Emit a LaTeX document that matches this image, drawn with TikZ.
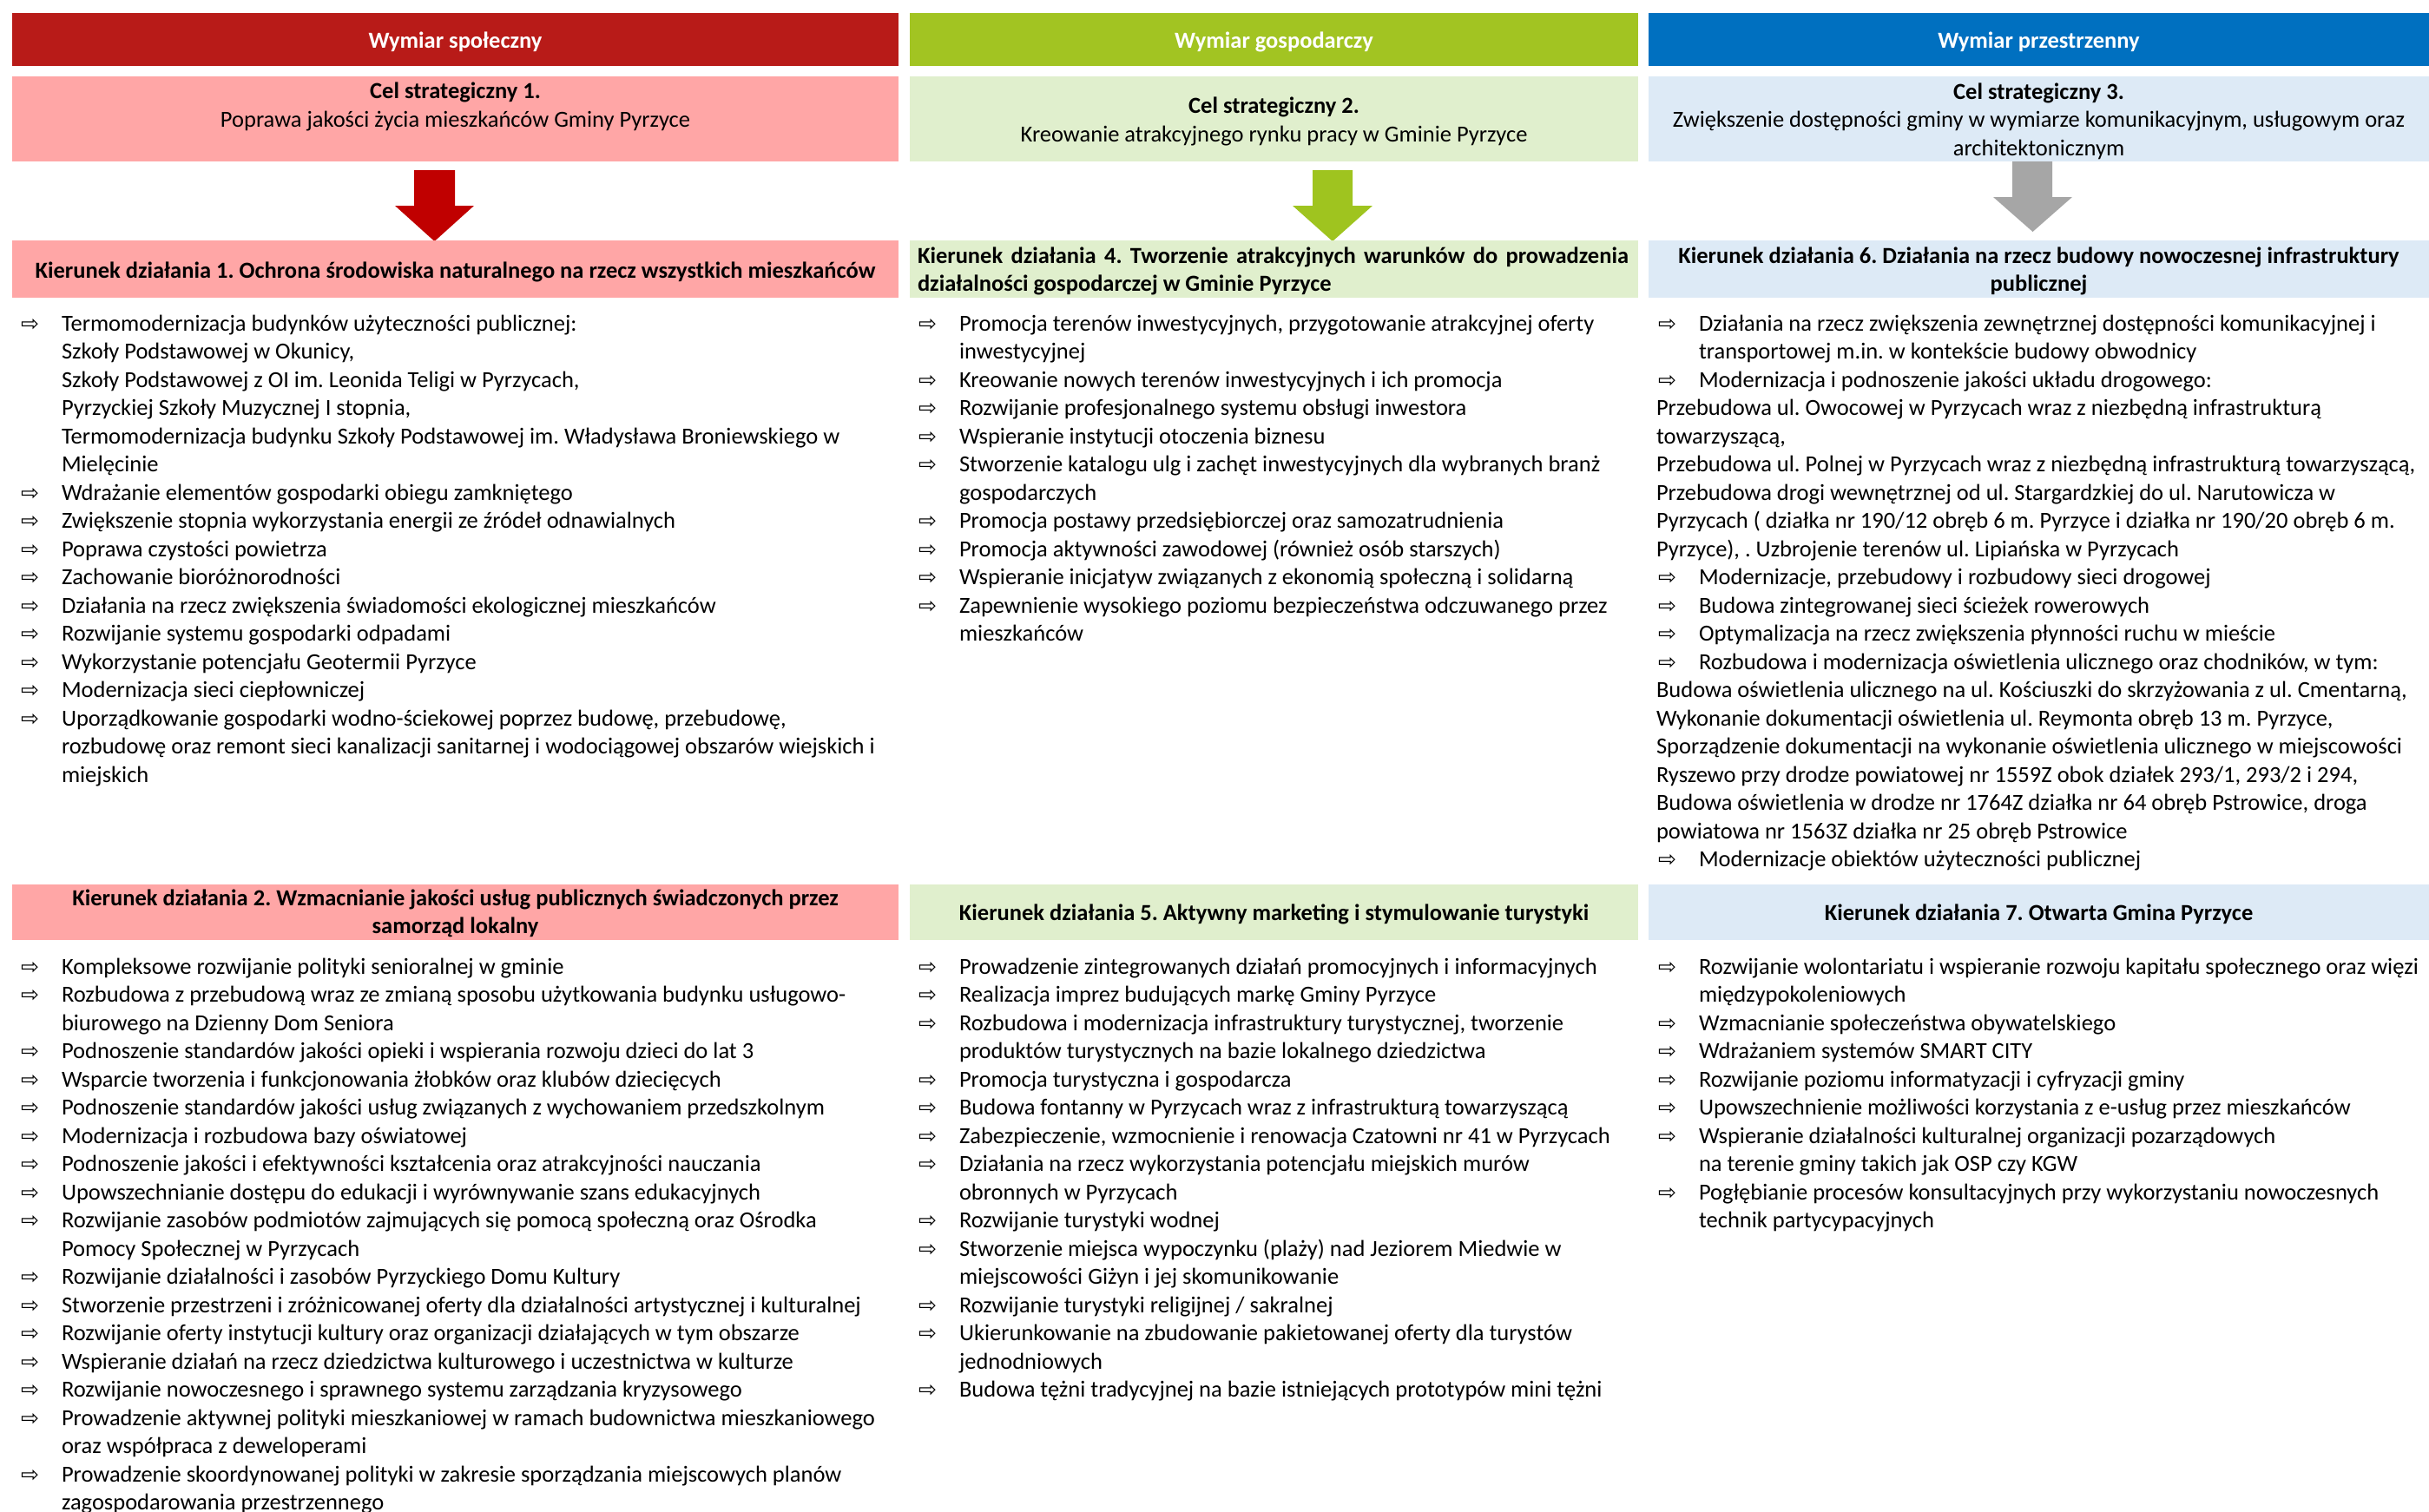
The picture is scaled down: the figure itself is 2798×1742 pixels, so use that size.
\documentclass[tikz,border=0pt]{standalone}
\usepackage{fontspec}
\setmainfont{Carlito}
\newfontfamily\symf{DejaVu Sans}
\frenchspacing
\definecolor{hdrRed}{RGB}{184,27,24}
\definecolor{lightRed}{RGB}{255,166,166}
\definecolor{hdrGreen}{RGB}{162,196,34}
\definecolor{lightGreen}{RGB}{224,239,205}
\definecolor{hdrBlue}{RGB}{0,112,192}
\definecolor{lightBlue}{RGB}{221,234,246}
\definecolor{arrRed}{RGB}{192,0,0}
\definecolor{arrGreen}{RGB}{159,196,31}
\definecolor{arrGray}{RGB}{166,166,166}
\newcommand\sr{\rule{0pt}{28pt}}
\newcommand\bl{\makebox[0pt][r]{{\symf\fontsize{25}{25}\selectfont ⇨}\hspace{26pt}}}
\newcommand\ind{\hspace*{49pt}}
\newcommand\ib{\ind\bl}
\begin{document}
\begin{tikzpicture}[x=1pt,y=-1pt,
  every node/.style={inner sep=0pt, outer sep=0pt},
  box/.style={draw=none, anchor=north west},
  txt/.style={font=\fontsize{26.5}{32.5}\selectfont\frenchspacing, align=left, anchor=north west},
  ctxt/.style={font=\fontsize{26.5}{32.5}\selectfont\frenchspacing, align=center, anchor=north},
  btxt/.style={ctxt, font=\fontsize{26.5}{32.5}\selectfont\frenchspacing\bfseries},
  htxt/.style={btxt, text=white}]
\useasboundingbox[fill=white] (0,0) rectangle (2798,1742);

% header bars
\node[box, fill=hdrRed, minimum width=1021pt, minimum height=61pt] (hA) at (14,15) {};
\node[box, fill=hdrGreen, minimum width=839pt, minimum height=61pt] (hB) at (1048,15) {};
\node[box, fill=hdrBlue, minimum width=899pt, minimum height=61pt] (hC) at (1899,15) {};
\node[htxt] (hAt) at (524.5,28) {\sr Wymiar społeczny};
\node[htxt] (hBt) at (1467.5,28) {\sr Wymiar gospodarczy};
\node[htxt] (hCt) at (2348.5,28) {\sr Wymiar przestrzenny};

% strategic goal boxes
\node[box, fill=lightRed, minimum width=1021pt, minimum height=98pt] (cA) at (14,88) {};
\node[box, fill=lightGreen, minimum width=839pt, minimum height=98pt] (cB) at (1048,88) {};
\node[box, fill=lightBlue, minimum width=899pt, minimum height=98pt] (cC) at (1899,88) {};
\node[ctxt] (cAt) at (524.5,86) {\sr\textbf{Cel strategiczny 1.}\\Poprawa jakości życia mieszkańców Gminy Pyrzyce};
\node[ctxt] (cBt) at (1467.5,103) {\sr\textbf{Cel strategiczny 2.}\\Kreowanie atrakcyjnego rynku pracy w Gminie Pyrzyce};
\node[ctxt] (cCt) at (2348.5,86) {\sr\textbf{Cel strategiczny 3.}\\Zwiększenie dostępności gminy w wymiarze komunikacyjnym, usługowym oraz\\architektonicznym};

% block arrows
\fill[arrRed] (477,196) -- (524,196) -- (524,237) -- (546,237) -- (500.5,278) -- (455,237) -- (477,237) -- cycle;
\fill[arrGreen] (1512,196) -- (1558,196) -- (1558,237) -- (1581,237) -- (1535,278) -- (1489,237) -- (1512,237) -- cycle;
\fill[arrGray] (2318,186) -- (2364,186) -- (2364,227) -- (2387,227) -- (2341.5,267) -- (2296,227) -- (2318,227) -- cycle;

% direction boxes row 1
\node[box, fill=lightRed, minimum width=1021pt, minimum height=66pt] (kA1) at (14,277) {};
\node[box, fill=lightGreen, minimum width=839pt, minimum height=66pt] (kB1) at (1048,277) {};
\node[box, fill=lightBlue, minimum width=899pt, minimum height=66pt] (kC1) at (1899,277) {};
\node[btxt] (kA1t) at (524.5,292) {\sr Kierunek działania 1. Ochrona środowiska naturalnego na rzecz wszystkich mieszkańców};
\node[btxt, anchor=north west, align=left] (kB1t) at (1057,275) {\sr\makebox[819pt][s]{Kierunek działania 4. Tworzenie atrakcyjnych warunków do prowadzenia}\\działalności gospodarczej w Gminie Pyrzyce};
\node[btxt] (kC1t) at (2348.5,275) {\sr Kierunek działania 6. Działania na rzecz budowy nowoczesnej infrastruktury\\publicznej};

% lists row 1
\node[txt] (lA1) at (71,353) {\sr\bl Termomodernizacja budynków użyteczności publicznej:\\
Szkoły Podstawowej w Okunicy,\\
Szkoły Podstawowej z OI im. Leonida Teligi w Pyrzycach,\\
Pyrzyckiej Szkoły Muzycznej I stopnia,\\
Termomodernizacja budynku Szkoły Podstawowej im. Władysława Broniewskiego w\\
Mielęcinie\\
\bl Wdrażanie elementów gospodarki obiegu zamkniętego\\
\bl Zwiększenie stopnia wykorzystania energii ze źródeł odnawialnych\\
\bl Poprawa czystości powietrza\\
\bl Zachowanie bioróżnorodności\\
\bl Działania na rzecz zwiększenia świadomości ekologicznej mieszkańców\\
\bl Rozwijanie systemu gospodarki odpadami\\
\bl Wykorzystanie potencjału Geotermii Pyrzyce\\
\bl Modernizacja sieci ciepłowniczej\\
\bl Uporządkowanie gospodarki wodno-ściekowej poprzez budowę, przebudowę,\\
rozbudowę oraz remont sieci kanalizacji sanitarnej i wodociągowej obszarów wiejskich i\\
miejskich};

\node[txt] (lB1) at (1105,353) {\sr\bl Promocja terenów inwestycyjnych, przygotowanie atrakcyjnej oferty\\
inwestycyjnej\\
\bl Kreowanie nowych terenów inwestycyjnych i ich promocja\\
\bl Rozwijanie profesjonalnego systemu obsługi inwestora\\
\bl Wspieranie instytucji otoczenia biznesu\\
\bl Stworzenie katalogu ulg i zachęt inwestycyjnych dla wybranych branż\\
gospodarczych\\
\bl Promocja postawy przedsiębiorczej oraz samozatrudnienia\\
\bl Promocja aktywności zawodowej (również osób starszych)\\
\bl Wspieranie inicjatyw związanych z ekonomią społeczną i solidarną\\
\bl Zapewnienie wysokiego poziomu bezpieczeństwa odczuwanego przez\\
mieszkańców};

\node[txt] (lC1) at (1908,353) {\sr\ib Działania na rzecz zwiększenia zewnętrznej dostępności komunikacyjnej i\\
\ind transportowej m.in. w kontekście budowy obwodnicy\\
\ib Modernizacja i podnoszenie jakości układu drogowego:\\
Przebudowa ul. Owocowej w Pyrzycach wraz z niezbędną infrastrukturą\\
towarzyszącą,\\
Przebudowa ul. Polnej w Pyrzycach wraz z niezbędną infrastrukturą towarzyszącą,\\
Przebudowa drogi wewnętrznej od ul. Stargardzkiej do ul. Narutowicza w\\
Pyrzycach ( działka nr 190/12 obręb 6 m. Pyrzyce i działka nr 190/20 obręb 6 m.\\
Pyrzyce), . Uzbrojenie terenów ul. Lipiańska w Pyrzycach\\
\ib Modernizacje, przebudowy i rozbudowy sieci drogowej\\
\ib Budowa zintegrowanej sieci ścieżek rowerowych\\
\ib Optymalizacja na rzecz zwiększenia płynności ruchu w mieście\\
\ib Rozbudowa i modernizacja oświetlenia ulicznego oraz chodników, w tym:\\
Budowa oświetlenia ulicznego na ul. Kościuszki do skrzyżowania z ul. Cmentarną,\\
Wykonanie dokumentacji oświetlenia ul. Reymonta obręb 13 m. Pyrzyce,\\
Sporządzenie dokumentacji na wykonanie oświetlenia ulicznego w miejscowości\\
Ryszewo przy drodze powiatowej nr 1559Z obok działek 293/1, 293/2 i 294,\\
Budowa oświetlenia w drodze nr 1764Z działka nr 64 obręb Pstrowice, droga\\
powiatowa nr 1563Z działka nr 25 obręb Pstrowice\\
\ib Modernizacje obiektów użyteczności publicznej};

% direction boxes row 2
\node[box, fill=lightRed, minimum width=1021pt, minimum height=64pt] (kA2) at (14,1019) {};
\node[box, fill=lightGreen, minimum width=839pt, minimum height=64pt] (kB2) at (1048,1019) {};
\node[box, fill=lightBlue, minimum width=899pt, minimum height=64pt] (kC2) at (1899,1019) {};
\node[btxt] (kA2t) at (524.5,1015) {\sr Kierunek działania 2. Wzmacnianie jakości usług publicznych świadczonych przez\\samorząd lokalny};
\node[btxt] (kB2t) at (1467.5,1032) {\sr Kierunek działania 5. Aktywny marketing i stymulowanie turystyki};
\node[btxt] (kC2t) at (2348.5,1032) {\sr Kierunek działania 7. Otwarta Gmina Pyrzyce};

% lists row 2
\node[txt] (lA2) at (71,1094) {\sr\bl Kompleksowe rozwijanie polityki senioralnej w gminie\\
\bl Rozbudowa z przebudową wraz ze zmianą sposobu użytkowania budynku usługowo-\\
biurowego na Dzienny Dom Seniora\\
\bl Podnoszenie standardów jakości opieki i wspierania rozwoju dzieci do lat 3\\
\bl Wsparcie tworzenia i funkcjonowania żłobków oraz klubów dziecięcych\\
\bl Podnoszenie standardów jakości usług związanych z wychowaniem przedszkolnym\\
\bl Modernizacja i rozbudowa bazy oświatowej\\
\bl Podnoszenie jakości i efektywności kształcenia oraz atrakcyjności nauczania\\
\bl Upowszechnianie dostępu do edukacji i wyrównywanie szans edukacyjnych\\
\bl Rozwijanie zasobów podmiotów zajmujących się pomocą społeczną oraz Ośrodka\\
Pomocy Społecznej w Pyrzycach\\
\bl Rozwijanie działalności i zasobów Pyrzyckiego Domu Kultury\\
\bl Stworzenie przestrzeni i zróżnicowanej oferty dla działalności artystycznej i kulturalnej\\
\bl Rozwijanie oferty instytucji kultury oraz organizacji działających w tym obszarze\\
\bl Wspieranie działań na rzecz dziedzictwa kulturowego i uczestnictwa w kulturze\\
\bl Rozwijanie nowoczesnego i sprawnego systemu zarządzania kryzysowego\\
\bl Prowadzenie aktywnej polityki mieszkaniowej w ramach budownictwa mieszkaniowego\\
oraz współpraca z deweloperami\\
\bl Prowadzenie skoordynowanej polityki w zakresie sporządzania miejscowych planów\\
zagospodarowania przestrzennego};

\node[txt] (lB2) at (1105,1094) {\sr\bl Prowadzenie zintegrowanych działań promocyjnych i informacyjnych\\
\bl Realizacja imprez budujących markę Gminy Pyrzyce\\
\bl Rozbudowa i modernizacja infrastruktury turystycznej, tworzenie\\
produktów turystycznych na bazie lokalnego dziedzictwa\\
\bl Promocja turystyczna i gospodarcza\\
\bl Budowa fontanny w Pyrzycach wraz z infrastrukturą towarzyszącą\\
\bl Zabezpieczenie, wzmocnienie i renowacja Czatowni nr 41 w Pyrzycach\\
\bl Działania na rzecz wykorzystania potencjału miejskich murów\\
obronnych w Pyrzycach\\
\bl Rozwijanie turystyki wodnej\\
\bl Stworzenie miejsca wypoczynku (plaży) nad Jeziorem Miedwie w\\
miejscowości Giżyn i jej skomunikowanie\\
\bl Rozwijanie turystyki religijnej / sakralnej\\
\bl Ukierunkowanie na zbudowanie pakietowanej oferty dla turystów\\
jednodniowych\\
\bl Budowa tężni tradycyjnej na bazie istniejących prototypów mini tężni};

\node[txt] (lC2) at (1957,1094) {\sr\bl Rozwijanie wolontariatu i wspieranie rozwoju kapitału społecznego oraz więzi\\
międzypokoleniowych\\
\bl Wzmacnianie społeczeństwa obywatelskiego\\
\bl Wdrażaniem systemów SMART CITY\\
\bl Rozwijanie poziomu informatyzacji i cyfryzacji gminy\\
\bl Upowszechnienie możliwości korzystania z e-usług przez mieszkańców\\
\bl Wspieranie działalności kulturalnej organizacji pozarządowych\\
na terenie gminy takich jak OSP czy KGW\\
\bl Pogłębianie procesów konsultacyjnych przy wykorzystaniu nowoczesnych\\
technik partycypacyjnych};
\end{tikzpicture}
\end{document}
